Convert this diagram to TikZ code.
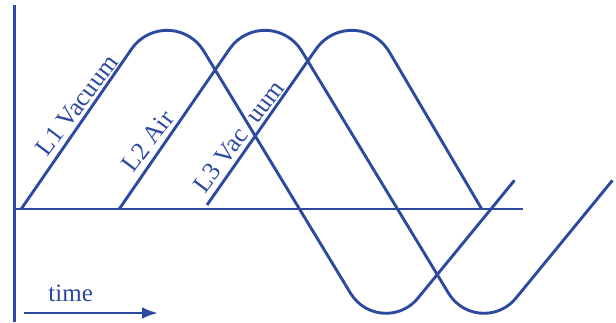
\documentclass[tikz,border=0pt]{standalone}
\usepackage{fontspec}
\setmainfont{Liberation Serif}
\usetikzlibrary{arrows.meta}
\definecolor{lnblue}{RGB}{45,73,160}
\begin{document}
\begin{tikzpicture}[x=1pt,y=-1pt,
  curve/.style={draw=lnblue, line width=2.9pt},
  axisline/.style={draw=lnblue, line width=2.7pt},
  lbl/.style={text=lnblue, font=\fontsize{25.5}{30}\selectfont, rotate=53, inner sep=0pt},
  timelbl/.style={text=lnblue, font=\fontsize{25}{30}\selectfont, inner sep=0pt}]
\useasboundingbox (0,0) rectangle (616,322);
% axes
\coordinate (ytop) at (14.3,5);
\coordinate (ybot) at (14.3,322);
\coordinate (xleft) at (14.3,209);
\coordinate (xright) at (523.3,209);
\draw[axisline] (ytop) -- (ybot);
\draw[axisline] (xleft) -- (xright);
% curve 1
\draw[curve] (21.2,209) -- (131.63,48.87)
  arc[start angle=-145.39, end angle=-31.22, radius=42.96]
  -- (350.66,293.42)
  arc[start angle=148.78, end angle=39.34, radius=41.28]
  -- (514.5,180.3);
% curve 2
\begin{scope}[shift={(98,0)}]
\draw[curve] (21.2,209) -- (131.63,48.87)
  arc[start angle=-145.39, end angle=-31.22, radius=42.96]
  -- (350.66,293.42)
  arc[start angle=148.78, end angle=39.34, radius=41.28]
  -- (514.5,180.3);
\end{scope}
% curve 3
\draw[curve] (207,205) -- (316.22,48.82)
  arc[start angle=-145.04, end angle=-30.47, radius=43.38]
  -- (481.7,209);
% labels
\node[lbl] (l1) at (76.8,105.2) {L1 Vacuum};
\node[lbl] (l2) at (147.8,141.2) {L2 Air};
\node[lbl] (l3) at (238.6,136.3) {L3 Vac\hspace{0.55em}uum};
% time arrow
\node[timelbl, anchor=base] (tl) at (70.7,301.7) {time};
\coordinate (ts) at (24,313);
\coordinate (te) at (158,313);
\draw[draw=lnblue, line width=2.9pt, -{Latex[length=16pt,width=12pt]}] (ts) -- (te);
\end{tikzpicture}
\end{document}
